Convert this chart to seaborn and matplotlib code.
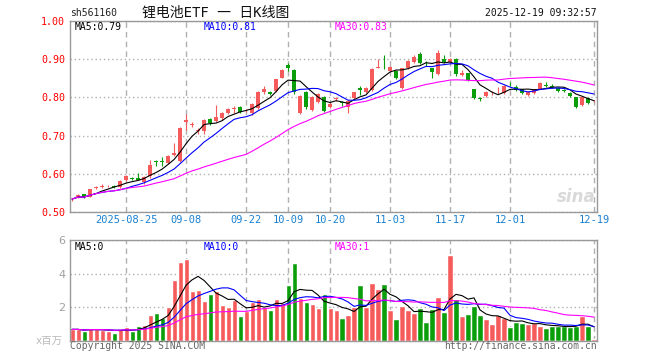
import numpy as np
import pandas as pd
import matplotlib
matplotlib.use('Agg')
import matplotlib.pyplot as plt
import seaborn as sns

# daily K-line of sh561160, 2025-08-12 .. 2025-12-19
opens = [0.533, 0.539, 0.546, 0.540, 0.564, 0.565, 0.567, 0.569, 0.565, 0.584,
         0.588, 0.588, 0.579, 0.593, 0.632, 0.632, 0.628, 0.650, 0.634, 0.735,
         0.728, 0.713, 0.713, 0.743, 0.738, 0.745, 0.758, 0.770, 0.776, 0.766,
         0.758, 0.771, 0.814, 0.815, 0.818, 0.852, 0.885, 0.872, 0.760, 0.815,
         0.767, 0.789, 0.802, 0.776, 0.797, 0.787, 0.776, 0.798, 0.825, 0.813,
         0.819, 0.878, 0.877, 0.870, 0.870, 0.824, 0.876, 0.893, 0.914, 0.890,
         0.876, 0.861, 0.900, 0.893, 0.900, 0.859, 0.863, 0.821, 0.797, 0.804,
         0.813, 0.811, 0.811, 0.835, 0.828, 0.821, 0.806, 0.811, 0.823, 0.832,
         0.829, 0.825, 0.819, 0.811, 0.800, 0.780, 0.798, 0.790]
closes = [0.534, 0.544, 0.539, 0.559, 0.565, 0.568, 0.569, 0.566, 0.581, 0.594,
          0.587, 0.585, 0.591, 0.623, 0.631, 0.631, 0.647, 0.655, 0.720, 0.741,
          0.729, 0.714, 0.741, 0.732, 0.748, 0.760, 0.769, 0.771, 0.762, 0.767,
          0.783, 0.815, 0.821, 0.810, 0.847, 0.872, 0.876, 0.815, 0.804, 0.774,
          0.802, 0.810, 0.764, 0.783, 0.798, 0.786, 0.791, 0.813, 0.819, 0.824,
          0.874, 0.879, 0.876, 0.879, 0.850, 0.876, 0.895, 0.905, 0.889, 0.889,
          0.866, 0.915, 0.893, 0.900, 0.861, 0.863, 0.846, 0.798, 0.796, 0.815,
          0.814, 0.812, 0.830, 0.834, 0.819, 0.811, 0.815, 0.821, 0.838, 0.831,
          0.828, 0.818, 0.818, 0.804, 0.776, 0.800, 0.786, 0.791]
highs = [0.537, 0.546, 0.548, 0.561, 0.568, 0.572, 0.571, 0.571, 0.583, 0.598,
         0.592, 0.602, 0.593, 0.636, 0.637, 0.645, 0.649, 0.680, 0.722, 0.756,
         0.735, 0.720, 0.743, 0.745, 0.780, 0.762, 0.772, 0.777, 0.778, 0.770,
         0.785, 0.817, 0.830, 0.818, 0.849, 0.874, 0.890, 0.874, 0.806, 0.818,
         0.804, 0.812, 0.804, 0.787, 0.802, 0.790, 0.793, 0.815, 0.830, 0.826,
         0.876, 0.900, 0.910, 0.882, 0.872, 0.878, 0.897, 0.912, 0.920, 0.895,
         0.878, 0.923, 0.912, 0.902, 0.902, 0.873, 0.865, 0.823, 0.800, 0.817,
         0.818, 0.828, 0.832, 0.840, 0.832, 0.823, 0.817, 0.823, 0.840, 0.840,
         0.834, 0.827, 0.822, 0.813, 0.802, 0.802, 0.800, 0.794]
lows = [0.530, 0.537, 0.536, 0.538, 0.561, 0.562, 0.565, 0.563, 0.563, 0.582,
        0.584, 0.583, 0.574, 0.590, 0.620, 0.620, 0.625, 0.647, 0.630, 0.715,
        0.722, 0.705, 0.703, 0.728, 0.735, 0.742, 0.756, 0.760, 0.758, 0.762,
        0.755, 0.769, 0.808, 0.806, 0.815, 0.850, 0.870, 0.810, 0.757, 0.770,
        0.764, 0.786, 0.761, 0.772, 0.790, 0.777, 0.760, 0.796, 0.805, 0.811,
        0.817, 0.876, 0.874, 0.868, 0.848, 0.822, 0.874, 0.891, 0.887, 0.883,
        0.852, 0.859, 0.891, 0.891, 0.855, 0.857, 0.844, 0.795, 0.790, 0.802,
        0.806, 0.808, 0.809, 0.830, 0.817, 0.808, 0.804, 0.809, 0.821, 0.826,
        0.824, 0.815, 0.814, 0.802, 0.772, 0.778, 0.783, 0.788]
# volume, millions
volumes = [0.69, 0.69, 0.57, 0.75, 0.69, 0.65, 0.59, 0.48, 0.69, 0.83,
           0.57, 0.87, 0.93, 1.54, 1.68, 1.39, 2.02, 3.60, 4.69, 4.87,
           2.99, 3.05, 2.38, 2.81, 3.00, 2.14, 2.02, 2.44, 1.49, 1.76,
           2.30, 2.52, 2.00, 1.84, 2.52, 2.27, 3.35, 4.63, 2.55, 2.30,
           2.20, 1.97, 2.81, 1.98, 1.84, 1.37, 1.54, 2.04, 3.35, 2.04,
           3.47, 3.11, 3.41, 1.84, 1.29, 2.08, 1.84, 1.68, 1.98, 1.13,
           1.88, 2.63, 1.74, 5.11, 2.50, 1.49, 1.60, 2.10, 1.54, 1.29,
           0.99, 1.54, 1.39, 0.83, 1.13, 1.07, 0.99, 1.09, 0.89, 0.77,
           0.89, 0.89, 0.89, 0.83, 0.89, 1.49, 0.89, 0.12]

tick_dates = ['2025-08-25', '2025-09-08', '2025-09-22', '2025-10-09', '2025-10-20',
              '2025-11-03', '2025-11-17', '2025-12-01', '2025-12-19']
tick_labels = ['2025-08-25', '09-08', '09-22', '10-09', '10-20',
               '11-03', '11-17', '12-01', '12-19']

# trading days (national day holiday closed)
dates = pd.bdate_range('2025-08-12', '2025-12-19')
dates = dates[~dates.isin(pd.date_range('2025-10-01', '2025-10-08'))]

df = pd.DataFrame({'date': dates, 'open': opens, 'close': closes,
                   'high': highs, 'low': lows, 'volume': volumes})
df['idx'] = np.arange(len(df))
df['dir'] = np.where(df['close'] >= df['open'], 'up', 'down')
for n in (5, 10, 30):
    df[f'ma{n}'] = df['close'].rolling(n, min_periods=1).mean()
    df[f'vma{n}'] = df['volume'].rolling(n, min_periods=1).mean()

RED = '#f65b5b'
GREEN = '#0a9e0a'
MA_COLORS = {5: '#000000', 10: '#0000ff', 30: '#ff00ff'}
GRID = '#b0b0b0'

sns.set_theme(style='white')
plt.rcParams['font.family'] = ['DejaVu Sans Mono', 'Noto Sans CJK SC']

W, H = 660, 360
fig = plt.figure(figsize=(6.6, 3.6), dpi=100)
ax = fig.add_axes([70 / W, 1 - 212 / H, 527 / W, 191 / H])
axv = fig.add_axes([70 / W, 1 - 341 / H, 527 / W, 101 / H])

def px(x, y):
    return x / W, 1 - y / H

# candles
cols = df['dir'].map({'up': RED, 'down': GREEN})
ax.vlines(df['idx'], df['low'], df['high'], colors=cols, lw=0.8, zorder=2)
body_lo = df[['open', 'close']].min(axis=1)
body_h = (df['close'] - df['open']).abs().clip(lower=0.0012)
ax.bar(df['idx'], body_h, bottom=body_lo, width=0.8, color=cols, lw=0, zorder=3)
for n, c in MA_COLORS.items():
    sns.lineplot(data=df, x='idx', y=f'ma{n}', color=c, lw=0.8, ax=ax, zorder=4)

# volume
sns.barplot(data=df, x='idx', y='volume', hue='dir', palette={'up': RED, 'down': GREEN},
            native_scale=True, dodge=False, width=0.85, saturation=1, legend=False,
            ax=axv, zorder=2)
for n, c in MA_COLORS.items():
    sns.lineplot(data=df, x='idx', y=f'vma{n}', color=c, lw=0.8, ax=axv, zorder=4)

tick_pos = [int(np.where(df['date'] == pd.Timestamp(d))[0][0]) for d in tick_dates]

for a in (ax, axv):
    a.set_xlim(-0.35, 87.5)
    a.set_xlabel('')
    a.set_ylabel('')
    a.set_xticks(tick_pos)
    a.xaxis.grid(True, ls=(0, (4, 3)), color=GRID, lw=1)
    a.yaxis.grid(True, ls=(0, (1, 2)), color=GRID, lw=1)
    a.set_axisbelow(True)
    for s in a.spines.values():
        s.set_color('#999999')
        s.set_linewidth(1)
    a.tick_params(length=0)

ax.set_ylim(0.5, 1.0)
ax.set_yticks([0.5, 0.6, 0.7, 0.8, 0.9, 1.0])
ax.set_yticklabels([f'{v:.2f}' for v in [0.5, 0.6, 0.7, 0.8, 0.9, 1.0]],
                   color='#ff0000', fontsize=7.2)
ax.set_xticklabels(tick_labels, color='#1a80d0', fontsize=7.5)
ax.tick_params(axis='y', pad=3.5)
ax.tick_params(axis='x', pad=2.5)

axv.set_ylim(0, 6)
axv.set_yticks([2, 4, 6])
axv.set_yticklabels(['2', '4', '6'], color='#a0a0a0', fontsize=8, family='DejaVu Sans')
axv.set_xticklabels([])
axv.tick_params(axis='y', pad=3.5)

# header
fig.text(*px(70, 13), 'sh561160', fontsize=7, color='#222222', va='center', ha='left')
fig.text(*px(216, 13), '锂电池ETF 一 日K线图', fontsize=10, color='#111111',
         va='center', ha='center')
fig.text(*px(597, 13), '2025-12-19 09:32:57', fontsize=7, color='#111111',
         va='center', ha='right')

# MA captions
last = df.iloc[-1]
fig.text(*px(75, 27), f"MA5:{last['ma5']:.2f}", fontsize=7, color=MA_COLORS[5], va='center')
fig.text(*px(204, 27), f"MA10:{last['ma10']:.2f}", fontsize=7, color=MA_COLORS[10], va='center')
fig.text(*px(335, 27), f"MA30:{last['ma30']:.2f}", fontsize=7, color=MA_COLORS[30], va='center')
fig.text(*px(75, 247), f"MA5:{int(last['vma5'])}", fontsize=7, color=MA_COLORS[5], va='center')
fig.text(*px(204, 247), f"MA10:{int(last['vma10'])}", fontsize=7, color=MA_COLORS[10], va='center')
fig.text(*px(335, 247), f"MA30:{int(last['vma30'])}", fontsize=7, color=MA_COLORS[30], va='center')

# footer
fig.text(*px(63, 341), 'x百万', fontsize=7.5, color='#bbbbbb', va='center', ha='right')
fig.text(*px(70, 346), 'Copyright 2025 SINA.COM', fontsize=7, color='#666666', va='center')
fig.text(*px(597, 346), 'http://finance.sina.com.cn', fontsize=7, color='#666666',
         va='center', ha='right')
fig.text(*px(596, 197), 'sina', fontsize=12, color='#d0d0d0', style='italic',
         weight='bold', family='DejaVu Sans', va='center', ha='right', alpha=0.8)

fig.savefig('out.png', dpi=100, facecolor='white')
